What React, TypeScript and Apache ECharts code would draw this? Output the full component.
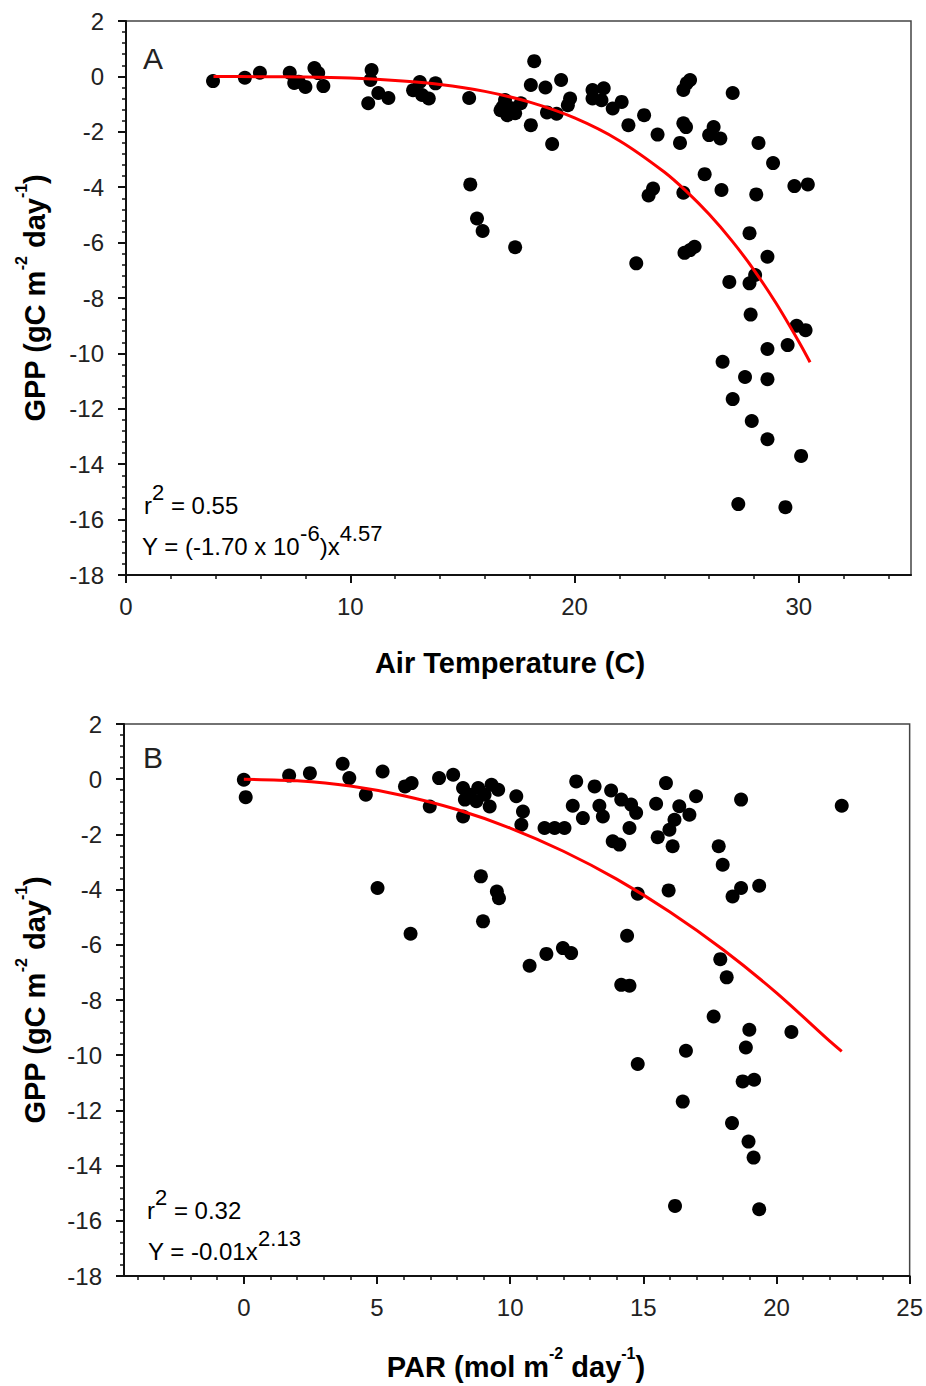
import React, { useEffect, useRef } from "react";
import * as echarts from "echarts";

// Panel A: air temperature (C) vs GPP
const tempX = [3.88, 5.3, 5.97, 7.3, 7.5, 7.7, 8.0, 8.4, 8.57, 8.8, 10.95, 10.9, 10.8, 11.25, 11.7, 12.8, 13.1, 13.2, 13.5, 13.8,
  15.3, 16.7, 16.8, 16.9, 17.0, 17.2, 17.35, 17.6, 18.05, 18.2, 18.05, 18.7, 19.4, 18.77, 19.2, 19.0, 19.8, 19.7, 20.8, 20.8,
  21.3, 21.2, 21.7, 22.1, 22.4, 23.1, 23.7, 24.85, 25.0, 25.15, 27.05, 24.85, 24.97, 24.7, 26.2, 26.0, 26.5, 28.2, 28.85, 29.8,
  30.4, 15.35, 15.65, 15.9, 17.35, 22.75, 23.5, 23.3, 24.85, 25.8, 26.55, 28.1, 25.15, 25.35, 24.9, 27.8, 28.6, 26.9, 27.8, 28.05,
  27.85, 29.9, 30.3, 29.5, 28.6, 26.6, 27.6, 28.6, 27.05, 27.9, 28.6, 30.1, 27.3, 29.4];
const tempGpp = [-0.17, -0.05, 0.13, 0.13, -0.24, -0.19, -0.38, 0.3, 0.12, -0.35, 0.23, -0.13, -0.97, -0.6, -0.78, -0.5, -0.2, -0.67, -0.8, -0.25,
  -0.78, -1.22, -1.1, -0.85, -1.4, -1.15, -1.33, -0.97, -1.76, 0.55, -0.31, -0.4, -0.13, -1.3, -1.35, -2.44, -0.8, -1.04, -0.49, -0.8,
  -0.43, -0.86, -1.16, -0.92, -1.76, -1.4, -2.1, -0.49, -0.25, -0.13, -0.6, -1.69, -1.83, -2.4, -1.83, -2.12, -2.24, -2.4, -3.13, -3.96,
  -3.9, -3.9, -5.13, -5.58, -6.17, -6.75, -4.05, -4.3, -4.2, -3.53, -4.1, -4.26, -6.27, -6.15, -6.37, -5.66, -6.51, -7.42, -7.47, -7.17,
  -8.6, -9.0, -9.16, -9.7, -9.84, -10.3, -10.85, -10.93, -11.65, -12.44, -13.1, -13.7, -15.44, -15.55];

// Panel A fitted curve
const fitTempX = [3.9, 6, 8, 10, 12, 14, 16, 18, 20, 22, 24, 25, 26, 27, 28, 29, 30, 30.5];
const fitTempY = [0, -0.01, -0.02, -0.06, -0.15, -0.29, -0.54, -0.93, -1.5, -2.32, -3.45, -4.16, -4.98, -5.92, -6.99, -8.21, -9.58, -10.32];

// Panel B: PAR vs GPP
const parX = [0, 0.07, 1.7, 2.48, 3.71, 3.96, 4.58, 5.21, 5.02, 6.26, 6.05, 6.3, 6.98, 7.33, 7.86, 8.23, 8.3, 8.48, 8.8, 8.73,
  9.04, 9.3, 9.23, 9.55, 8.23, 10.23, 10.48, 10.42, 11.29, 11.67, 12.04, 8.9, 9.5, 9.58, 8.98, 10.73, 11.36, 11.98, 12.29, 12.48,
  13.17, 13.79, 12.35, 12.73, 13.35, 13.48, 14.17, 14.54, 14.73, 14.48, 13.85, 14.1, 15.85, 15.48, 16.98, 16.35, 16.73, 16.17, 15.98, 15.54,
  16.1, 18.67, 22.45, 17.83, 17.98, 18.35, 18.67, 19.35, 15.95, 14.79, 14.39, 14.17, 14.48, 17.89, 18.13, 17.64, 18.98, 20.56, 18.85, 16.6,
  14.79, 18.73, 19.16, 16.48, 18.33, 18.95, 19.14, 16.19, 19.35];
const parGpp = [-0.02, -0.65, 0.13, 0.22, 0.56, 0.04, -0.56, 0.28, -3.94, -5.6, -0.26, -0.14, -0.99, 0.04, 0.16, -0.32, -0.74, -0.56, -0.32, -0.8,
  -0.56, -0.2, -0.99, -0.38, -1.35, -0.62, -1.17, -1.65, -1.77, -1.77, -1.77, -3.52, -4.07, -4.31, -5.15, -6.76, -6.33, -6.12, -6.3, -0.08,
  -0.26, -0.41, -0.96, -1.41, -0.96, -1.35, -0.74, -0.92, -1.22, -1.77, -2.25, -2.37, -0.14, -0.89, -0.62, -0.98, -1.29, -1.47, -1.83, -2.1,
  -2.43, -0.74, -0.96, -2.43, -3.1, -4.25, -3.94, -3.86, -4.03, -4.15, -5.67, -7.45, -7.48, -6.52, -7.18, -8.6, -9.08, -9.16, -9.72, -9.84,
  -10.32, -10.95, -10.89, -11.68, -12.46, -13.13, -13.71, -15.46, -15.58];

// Panel B fitted curve
const fitParX = [0, 2, 4, 6, 8, 10, 12, 14, 16, 18, 20, 22, 22.45];
const fitParY = [0, -0.06, -0.25, -0.6, -1.1, -1.77, -2.61, -3.62, -4.81, -6.18, -7.74, -9.49, -9.86];

// Tick values
const yTicksMin = -18;
const yTicksMax = 2;
const tempMajor = [0, 10, 20, 30];
const tempMinor = [2, 4, 6, 8, 12, 14, 16, 18, 22, 24, 26, 28, 32, 34];
const parMajor = [0, 5, 10, 15, 20, 25];
const parMinor = [-4, -3, -2, -1, 1, 2, 3, 4, 6, 7, 8, 9, 11, 12, 13, 14, 16, 17, 18, 19, 21, 22, 23, 24];

const FONT = "'Liberation Sans', Arial, sans-serif";
const INK = "#111";

const zip = (xs: number[], ys: number[]) => xs.map((x, i) => [x, ys[i]]);

function yAxis(gridIndex: number) {
  return {
    type: "value",
    gridIndex,
    min: yTicksMin,
    max: yTicksMax,
    interval: 2,
    axisLine: { show: true, onZero: false, lineStyle: { color: INK, width: 2 } },
    axisTick: { show: true, inside: false, length: 8, lineStyle: { color: INK, width: 2 } },
    minorTick: { show: true, splitNumber: 5, length: 4, lineStyle: { color: INK, width: 1.5 } },
    axisLabel: { margin: 22, fontSize: 24, color: "#222", fontFamily: FONT },
    splitLine: { show: false },
    minorSplitLine: { show: false },
  };
}

function xMain(gridIndex: number, min: number, max: number, major: number[]) {
  return {
    type: "value",
    gridIndex,
    position: "bottom",
    min,
    max,
    axisLine: { show: true, onZero: false, lineStyle: { color: INK, width: 2 } },
    axisTick: { show: true, inside: false, length: 8, customValues: major, lineStyle: { color: INK, width: 2 } },
    axisLabel: { margin: 19, fontSize: 24, color: "#222", fontFamily: FONT, customValues: major },
    splitLine: { show: false },
  };
}

function xMinor(gridIndex: number, min: number, max: number, minor: number[]) {
  return {
    type: "value",
    gridIndex,
    position: "bottom",
    offset: 0,
    min,
    max,
    axisLine: { show: false, onZero: false },
    axisTick: { show: true, inside: false, length: 4, customValues: minor, lineStyle: { color: INK, width: 1.5 } },
    axisLabel: { show: false },
    splitLine: { show: false },
  };
}

const eqRich = {
  b: { fontSize: 24, fontFamily: FONT, color: "#222", lineHeight: 36, verticalAlign: "bottom" },
  s: { fontSize: 22, fontFamily: FONT, color: "#222", lineHeight: 19, verticalAlign: "top" },
};
const titleRich = {
  b: { fontSize: 29, fontWeight: "bold", fontFamily: FONT, color: "#000", lineHeight: 36, verticalAlign: "bottom" },
  s: { fontSize: 16, fontWeight: "bold", fontFamily: FONT, color: "#000", lineHeight: 24, verticalAlign: "top" },
};

function txt(x: number, y: number, text: string, rich: any, align: string, vAlign: string, rotation = 0) {
  return {
    type: "text",
    x,
    y,
    rotation,
    z: 100,
    style: {
      text,
      rich,
      align,
      verticalAlign: vAlign,
      textAlign: align,
      textVerticalAlign: vAlign,
    },
  };
}

export default function App() {
  const ref = useRef<HTMLDivElement>(null);

  useEffect(() => {
    if (!ref.current) return;
    const chart = echarts.init(ref.current, null, { renderer: "svg" });
    const option: any = {
      animation: false,
      backgroundColor: "#fff",
      grid: [
        { left: 126, right: 15, top: 21, height: 554, show: true, borderColor: "#444", borderWidth: 1.5, backgroundColor: "transparent" },
        { left: 124, right: 15, top: 724, height: 552, show: true, borderColor: "#444", borderWidth: 1.5, backgroundColor: "transparent" },
      ],
      xAxis: [
        xMain(0, 0, 35, tempMajor),
        xMinor(0, 0, 35, tempMinor),
        xMain(1, -4.5, 25, parMajor),
        xMinor(1, -4.5, 25, parMinor),
      ],
      yAxis: [yAxis(0), yAxis(1)],
      series: [
        {
          type: "scatter",
          xAxisIndex: 0,
          yAxisIndex: 0,
          data: zip(tempX, tempGpp),
          symbol: "circle",
          symbolSize: 14,
          itemStyle: { color: "#000", opacity: 1 },
          z: 2,
        },
        {
          type: "line",
          xAxisIndex: 0,
          yAxisIndex: 0,
          data: zip(fitTempX, fitTempY),
          showSymbol: false,
          smooth: 0.3,
          lineStyle: { color: "#ff0000", width: 3 },
          z: 3,
        },
        {
          type: "scatter",
          xAxisIndex: 2,
          yAxisIndex: 1,
          data: zip(parX, parGpp),
          symbol: "circle",
          symbolSize: 14,
          itemStyle: { color: "#000", opacity: 1 },
          z: 2,
        },
        {
          type: "line",
          xAxisIndex: 2,
          yAxisIndex: 1,
          data: zip(fitParX, fitParY),
          showSymbol: false,
          smooth: 0.3,
          lineStyle: { color: "#ff0000", width: 3 },
          z: 3,
        },
      ],
      graphic: [
        {
          type: "text", x: 143, y: 58, z: 100,
          style: { text: "A", font: `30px ${FONT}`, fill: "#222", align: "left", verticalAlign: "middle", textAlign: "left", textVerticalAlign: "middle" },
        },
        {
          type: "text", x: 143, y: 757, z: 100,
          style: { text: "B", font: `30px ${FONT}`, fill: "#222", align: "left", verticalAlign: "middle", textAlign: "left", textVerticalAlign: "middle" },
        },
        txt(144, 481, "{b|r}{s|2}{b| = 0.55}", eqRich, "left", "top"),
        txt(142, 522, "{b|Y = (-1.70 x 10}{s|-6}{b|)x}{s|4.57}", eqRich, "left", "top"),
        txt(147, 1186, "{b|r}{s|2}{b| = 0.32}", eqRich, "left", "top"),
        txt(148, 1227, "{b|Y = -0.01x}{s|2.13}", eqRich, "left", "top"),
        {
          type: "text", x: 510, y: 663, z: 100,
          style: { text: "Air Temperature (C)", font: `bold 29px ${FONT}`, fill: "#000", align: "center", verticalAlign: "middle", textAlign: "center", textVerticalAlign: "middle" },
        },
        txt(516, 1345, "{b|PAR (mol m}{s|-2}{b| day}{s|-1}{b|)}", titleRich, "center", "top"),
        txt(31, 298, "{b|GPP (gC m}{s|-2}{b| day}{s|-1}{b|)}", titleRich, "center", "middle", Math.PI / 2),
        txt(31, 1000, "{b|GPP (gC m}{s|-2}{b| day}{s|-1}{b|)}", titleRich, "center", "middle", Math.PI / 2),
      ],
    };
    chart.setOption(option);
    return () => chart.dispose();
  }, []);

  return (
    <div
      ref={ref}
      style={{ position: "absolute", left: 0, top: 0, width: 926, height: 1386, background: "#fff" }}
    />
  );
}
